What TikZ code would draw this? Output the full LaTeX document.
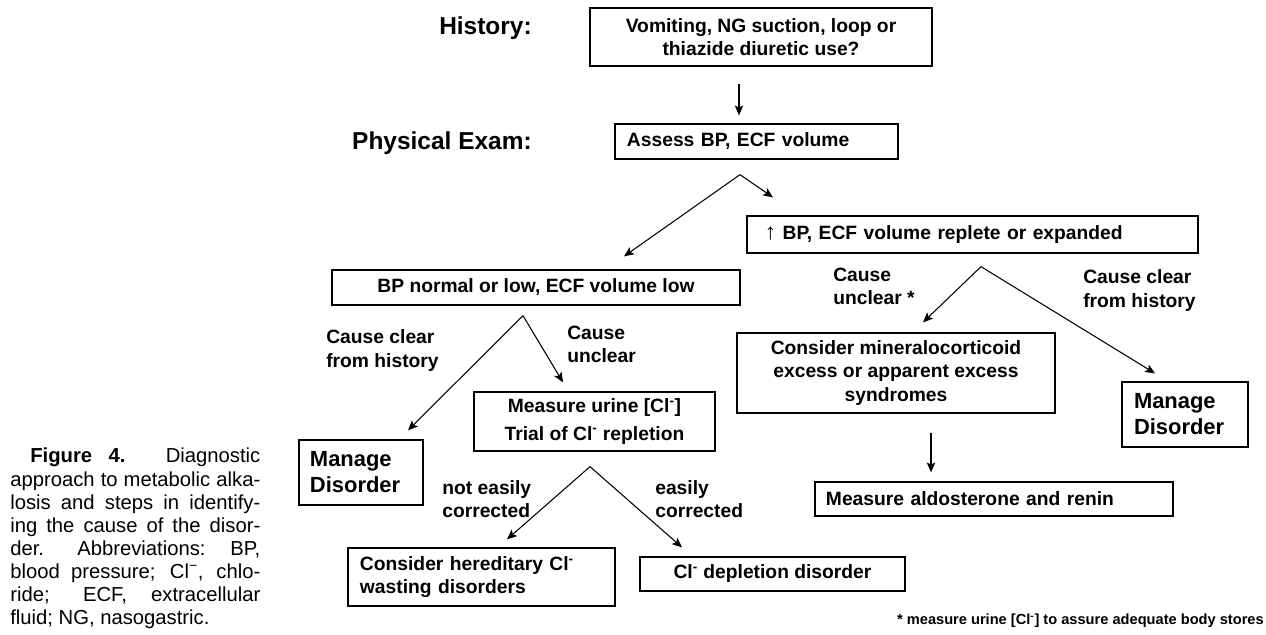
\documentclass[tikz,border=0pt]{standalone}
\usepackage{fontspec}
\setmainfont{Liberation Sans}
\usetikzlibrary{arrows.meta,calc}

\begin{document}
\begin{tikzpicture}[
    x=0.025cm, y=-0.025cm,
    box/.style={rectangle, draw, line width=0.9pt, inner sep=0pt, align=center, font=\fontsize{13.7}{16.4}\selectfont\bfseries},
    lbox/.style={box, align=left, inner xsep=#1},
    bigbox/.style={lbox=#1, font=\fontsize{15.6}{18.5}\selectfont\bfseries},
    head/.style={anchor=east, inner sep=0pt, font=\fontsize{17.4}{20}\selectfont\bfseries},
    tag/.style={anchor=west, align=left, inner sep=0pt, font=\fontsize{13.7}{16.4}\selectfont\bfseries},
    link/.style={-{Stealth[length=7pt,width=6pt,inset=1.5pt]}, line width=0.75pt}
]
\useasboundingbox (0,0) rectangle (1266,634);

% headings
\node[head] (hist) at (532,28) {History:};
\node[head] (exam) at (532,143) {Physical Exam:};

% boxes
\node[box, minimum width=8.55cm, minimum height=1.45cm] (vomit) at (761,37) {Vomiting, NG suction, loop or\\thiazide diuretic use?};
\node[lbox=0.3cm, text width=6.475cm, minimum height=0.875cm] (assess) at (756.5,141.5) {Assess BP, ECF volume};
\node[box, minimum width=10.2cm, minimum height=0.875cm] (low) at (536,287.5) {BP normal or low, ECF volume low};
\node[lbox=0.45cm, text width=10.375cm, minimum height=0.925cm] (high) at (972.5,234.5) {{\mdseries\fontsize{16}{16}\selectfont ↑} BP, ECF volume replete or expanded};
\node[bigbox=0.275cm, text width=2.55cm, minimum height=1.625cm] (manageL) at (361,472.5) {Manage\\Disorder};
\node[box, minimum width=6.025cm, minimum height=1.475cm] (urine) at (594.5,421.5) {Measure urine [Cl\textsuperscript{-}]\\[3pt]Trial of Cl\textsuperscript{-} repletion};
\node[lbox=0.3cm, text width=6.075cm, minimum height=1.45cm] (hered) at (481.5,577) {Consider hereditary Cl\textsuperscript{-}\\wasting disorders};
\node[box, minimum width=6.625cm, minimum height=0.85cm] (deplet) at (772.5,574) {Cl\textsuperscript{-} depletion disorder};
\node[box, minimum width=7.95cm, minimum height=2cm] (mineral) at (896,373) {Consider mineralocorticoid\\excess or apparent excess\\syndromes};
\node[bigbox=0.3cm, text width=2.55cm, minimum height=1.625cm] (manageR) at (1185,414.5) {Manage\\Disorder};
\node[lbox=0.275cm, text width=8.4cm, minimum height=0.85cm] (aldo) at (994,499) {Measure aldosterone and renin};

% branch points
\coordinate (fork1) at ($(assess.south)+(-16.5,15)$);
\coordinate (fork2) at ($(low.south)+(-13,10)$);
\coordinate (fork3) at ($(high.south)+(8.5,13)$);
\coordinate (fork4) at ($(urine.south)+(-4.5,15)$);

% arrows
\draw[link] ($(vomit.south)+(-22,17)$) -- ($(assess.north)+(-17.5,-8)$);
\draw[link] (fork1) -- ($(low.north)+(88,-13)$);
\draw[link] (fork1) -- ($(high.north)+(-199.5,-18)$);
\draw[link] (fork2) -- ($(manageL.north)+(47,-9)$);
\draw[link] (fork2) -- ($(urine.north)+(-31.5,-9)$);
\draw[link] (fork3) -- ($(mineral.north)+(27,-10)$);
\draw[link] (fork3) -- ($(manageR.north)+(-30,-8)$);
\draw[link] (fork4) -- ($(hered.north)+(25.5,-8)$);
\draw[link] (fork4) -- ($(deplet.north)+(-90.5,-9)$);
\draw[link] ($(mineral.south)+(35,19)$) -- ($(aldo.north)+(-63,-9)$);

% branch labels
\node[tag] (clear1) at (326,350.5) {Cause clear\\from history};
\node[tag] (unclear1) at (567,344.5) {Cause\\unclear};
\node[tag] (unclear2) at (833,286) {Cause\\unclear *};
\node[tag] (clear2) at (1083,290.5) {Cause clear\\from history};
\node[tag] (hard) at (442,499.5) {not easily\\corrected};
\node[tag] (easy) at (655,499.5) {easily\\corrected};

% footnote and caption
\node[anchor=east, inner sep=0pt, font=\fontsize{10.4}{12}\selectfont\bfseries] (note) at (1264,621) {* measure urine [Cl\textsuperscript{-}] to assure adequate body stores};
\node[anchor=north west, inner sep=0pt, text width=6.25cm, align=justify, font=\fontsize{14.4}{16.4}\selectfont] (caption) at (10,448) {\hspace*{0.5cm}\textbf{Figure 4.} Diagnostic\linebreak approach to metabolic alka-\linebreak losis and steps in identify-\linebreak ing the cause of the disor-\linebreak der. Abbreviations: BP,\linebreak blood pressure; Cl\textsuperscript{−}, chlo-\linebreak ride; ECF, extracellular\linebreak fluid; NG, nasogastric.};
\end{tikzpicture}
\end{document}
